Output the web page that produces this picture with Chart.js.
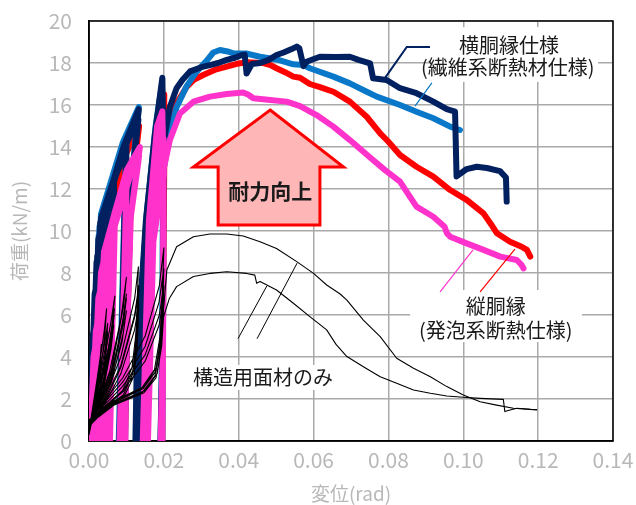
<!DOCTYPE html>
<html>
<head>
<meta charset="utf-8">
<script src="https://cdn.jsdelivr.net/npm/chart.js@4/dist/chart.umd.min.js"></script>
<style>
  body { margin: 0; background: #fff; }
</style>
</head>
<body>
<canvas id="hysChart" width="636" height="505"></canvas>
<script>

const xTicks = [0, 0.02, 0.04, 0.06, 0.08, 0.10, 0.12, 0.14];
const yTicks = [0, 2, 4, 6, 8, 10, 12, 14, 16, 18, 20];

// 横胴縁仕様 (dark)
const navyCycles = [
  [0.0000,-1],[0.0010,5.0],[0.0022,6.6],[0.0019,3.0],[0.0012,-1],
  [0.0001,-1],[0.0015,7.0],[0.0033,8.4],[0.0029,4.5],[0.0020,-1],
  [0.0002,-1],[0.0020,8.5],[0.0050,10.8],[0.0046,6.5],[0.0034,-1],
  [0.0003,-1],[0.0022,8.8],[0.0050,10.4],[0.0046,6.0],[0.0036,-1],
  [0.0003,-1],[0.0025,9.6],[0.0048,11.0],[0.0067,12.4],[0.0062,8.0],[0.0050,-1],
  [0.0004,-1],[0.0028,9.8],[0.0067,12.0],[0.0062,7.5],[0.0052,-1],
  [0.0004,-1],[0.0030,10.4],[0.0065,12.3],[0.0100,14.2],[0.0094,10.0],[0.0080,-1],
  [0.0006,-1],[0.0034,10.5],[0.0075,12.8],[0.0100,13.8],[0.0094,9.5],[0.0082,-1],
  [0.0005,-1],[0.0032,10.6],[0.0065,12.4],[0.0092,14.0],[0.0133,15.8],[0.0112,12.0],[0.0100,4.0],[0.0094,-1],
  [0.0008,-1],[0.0040,11.0],[0.0095,14.0],[0.0132,15.3],[0.0110,11.5],[0.0098,3.0],[0.0096,-1],
  [0.0123,-1],[0.0128,4.0],[0.0152,10.5],[0.0176,14.6],[0.0196,17.3],[0.0199,14.0],[0.0198,6.0],[0.0190,-1],
  [0.0127,-1],[0.0134,4.0],[0.0156,10.5],[0.0182,14.8],[0.0196,16.4],[0.0199,12.5],[0.0196,-1],
  [0.0130,-1],[0.0138,4.0],[0.0160,10.2],[0.0190,13.4]
];
const navyEnvelope = [
  [0.0200,14.3],[0.0216,15.9],[0.0234,16.8],[0.0250,17.2],[0.0270,17.6],[0.0300,17.8],[0.0323,17.9],
  [0.0345,18.0],[0.0368,18.15],[0.0390,18.25],[0.0408,18.38],[0.0416,18.4],[0.0421,17.5],[0.0435,17.95],
  [0.0457,18.0],[0.0480,18.15],[0.0501,18.38],[0.0520,18.5],[0.0540,18.65],[0.0555,18.78],[0.0562,18.7],
  [0.0573,17.85],[0.0581,18.06],[0.0617,18.3],[0.0660,18.28],[0.0697,18.3],[0.0720,18.15],[0.0751,17.98],
  [0.0759,17.27],[0.0795,17.19],[0.0831,16.8],[0.0875,16.56],[0.0920,16.16],[0.0956,15.8],[0.0978,15.68],
  [0.0982,12.6],[0.1009,12.95],[0.1036,13.06],[0.1063,13.0],[0.1098,12.85],[0.1114,12.55],[0.1116,11.4]
];

// 横胴縁仕様 (blue)
const blueCycles = [
  [0.0003,-1],[0.0026,9.8],[0.0050,11.2],[0.0067,12.5],[0.0062,8.0],[0.0050,-1],
  [0.0003,-1],[0.0028,10.2],[0.0065,12.5],[0.0100,14.3],[0.0093,10.0],[0.0078,-1],
  [0.0005,-1],[0.0032,10.8],[0.0090,14.2],[0.0133,15.9],[0.0111,12.0],[0.0098,3.0],[0.0094,-1],
  [0.0125,-1],[0.0130,4.0],[0.0154,10.8],[0.0178,15.0],[0.0195,17.0],[0.0198,13.0],[0.0195,4.0],[0.0190,-1],
  [0.0132,-1],[0.0140,4.0],[0.0163,10.5],[0.0198,12.8]
];
const blueEnvelope = [
  [0.0205,13.5],[0.0220,15.0],[0.0234,15.9],[0.0261,16.9],[0.0288,17.6],[0.0314,18.1],[0.0332,18.5],
  [0.0350,18.62],[0.0370,18.55],[0.0386,18.46],[0.0420,18.45],[0.0457,18.3],[0.0501,18.17],[0.0546,17.94],
  [0.0573,17.9],[0.0590,17.75],[0.0653,17.35],[0.0697,17.03],[0.0742,16.63],[0.0769,16.4],[0.0831,16.0],
  [0.0875,15.68],[0.0920,15.37],[0.0965,14.97],[0.0991,14.81]
];

// 縦胴縁 (red)
const redCycles = [
  [0.0000,-1],[0.0015,5.0],[0.0033,7.0],[0.0029,3.5],[0.0020,-1],
  [0.0002,-1],[0.0025,7.5],[0.0050,9.5],[0.0046,5.5],[0.0034,-1],
  [0.0003,-1],[0.0030,9.0],[0.0067,11.5],[0.0062,7.0],[0.0050,-1],
  [0.0004,-1],[0.0034,9.8],[0.0065,11.6],[0.0100,13.5],[0.0094,9.5],[0.0083,-1],
  [0.0006,-1],[0.0036,10.0],[0.0092,13.4],[0.0134,15.0],[0.0111,11.5],[0.0099,3.0],[0.0095,-1],
  [0.0128,-1],[0.0134,4.0],[0.0158,10.0],[0.0183,14.8],[0.0201,16.5],[0.0201,13.0],[0.0197,5.0],[0.0192,-1],
  [0.0140,-1],[0.0146,4.0],[0.0168,9.8],[0.0199,13.0]
];
const redEnvelope = [
  [0.0205,14.0],[0.0220,15.3],[0.0234,16.08],[0.0261,16.87],[0.0280,17.2],[0.0305,17.43],[0.0340,17.7],
  [0.0368,17.83],[0.0400,17.98],[0.0421,18.03],[0.0466,18.0],[0.0485,17.9],[0.0501,17.75],[0.0525,17.55],
  [0.0546,17.35],[0.0564,17.3],[0.0590,17.0],[0.0617,16.85],[0.0653,16.63],[0.0697,16.16],[0.0742,15.44],
  [0.0778,14.65],[0.0800,14.25],[0.0831,13.62],[0.0875,13.06],[0.0920,12.59],[0.0965,11.95],[0.1009,11.48],
  [0.1054,10.84],[0.1075,10.3],[0.1090,9.89],[0.1125,9.49],[0.1156,9.25],[0.1170,9.1],[0.1179,8.78]
];

// 縦胴縁 (magenta)
const magentaCycles = [
  [0.0002,-1],[0.0012,4.0],[0.0022,5.0],[0.0019,2.5],[0.0012,-1],
  [0.0003,-1],[0.0018,5.2],[0.0033,6.6],[0.0029,3.5],[0.0020,-1],
  [0.0004,-1],[0.0020,5.0],[0.0033,6.2],[0.0029,3.0],[0.0022,-1],
  [0.0005,-1],[0.0025,6.8],[0.0050,8.6],[0.0046,5.0],[0.0034,-1],
  [0.0007,-1],[0.0028,6.6],[0.0050,8.2],[0.0046,4.5],[0.0036,-1],
  [0.0008,-1],[0.0032,8.0],[0.0050,9.4],[0.0069,10.8],[0.0064,7.0],[0.0050,-1],
  [0.0010,-1],[0.0036,8.0],[0.0069,10.4],[0.0064,6.5],[0.0053,-1],
  [0.0012,-1],[0.0040,8.0],[0.0068,10.0],[0.0063,6.0],[0.0055,-1],
  [0.0012,-1],[0.0040,9.0],[0.0069,10.9],[0.0101,12.9],[0.0096,9.0],[0.0080,-1],
  [0.0015,-1],[0.0046,9.2],[0.0080,11.5],[0.0100,12.4],[0.0095,8.5],[0.0082,-1],
  [0.0018,-1],[0.0052,9.4],[0.0085,11.5],[0.0100,12.0],[0.0094,8.0],[0.0084,-1],
  [0.0018,-1],[0.0052,9.8],[0.0101,12.9],[0.0136,14.0],[0.0112,10.8],[0.0100,4.0],[0.0094,-1],
  [0.0022,-1],[0.0060,10.0],[0.0110,13.0],[0.0134,13.6],[0.0110,10.5],[0.0099,3.0],[0.0096,-1],
  [0.0026,-1],[0.0068,10.2],[0.0115,12.9],[0.0132,13.3],[0.0108,10.2],[0.0098,2.0],[0.0097,-1],
  [0.0142,-1],[0.0160,10.5],[0.0182,15.0],[0.0196,15.7],[0.0199,12.0],[0.0198,5.0],[0.0190,-1],
  [0.0147,-1],[0.0164,10.5],[0.0186,14.5],[0.0197,15.0],[0.0199,9.0],[0.0194,-1],
  [0.0152,-1],[0.0168,10.2],[0.0190,14.0],[0.0198,14.4],[0.0199,8.0],[0.0196,-1],
  [0.0156,-1],[0.0172,9.5],[0.0198,12.6]
];
const magentaEnvelope = [
  [0.0200,13.0],[0.0216,14.33],[0.0243,15.6],[0.0279,16.16],[0.0323,16.4],[0.0368,16.52],[0.0412,16.59],
  [0.0425,16.5],[0.0439,16.32],[0.0484,16.24],[0.0528,16.16],[0.0564,15.95],[0.0608,15.52],[0.0653,14.97],
  [0.0697,14.33],[0.0751,13.5],[0.0791,12.9],[0.0831,12.35],[0.0855,11.7],[0.0875,11.16],[0.0920,10.68],
  [0.0950,10.2],[0.0956,9.9],[0.0965,9.73],[0.1009,9.41],[0.1054,9.1],[0.1099,8.78],[0.1143,8.62],
  [0.1155,8.4],[0.1161,8.22]
];

// 構造用面材のみ (two specimens)
const plainACycles = [
  [0.0000,0.4],[0.0010,1.6],[0.0022,3.0],[0.0030,4.0],[0.0033,4.6],[0.0030,3.6],[0.0018,2.0],[0.0006,0.9],[0.0000,0.4],
  [0.0000,0.5],[0.0012,1.8],[0.0028,3.6],[0.0041,5.3],[0.0047,6.3],[0.0042,5.0],[0.0026,2.6],[0.0008,1.1],[0.0000,0.5],
  [0.0000,0.5],[0.0014,1.8],[0.0030,3.4],[0.0044,4.9],[0.0050,5.6],[0.0045,4.4],[0.0028,2.4],[0.0009,1.1],[0.0000,0.5],
  [0.0000,0.6],[0.0016,1.8],[0.0036,3.4],[0.0058,5.6],[0.0069,6.9],[0.0062,5.6],[0.0040,3.0],[0.0012,1.3],[0.0000,0.6],
  [0.0000,0.6],[0.0018,1.8],[0.0040,3.3],[0.0060,5.2],[0.0068,6.3],[0.0061,5.0],[0.0040,2.8],[0.0012,1.3],[0.0000,0.6],
  [0.0000,0.7],[0.0025,1.8],[0.0055,3.3],[0.0085,5.8],[0.0100,7.8],[0.0092,6.4],[0.0060,3.4],[0.0020,1.5],[0.0000,0.7],
  [0.0000,0.7],[0.0028,1.8],[0.0060,3.2],[0.0088,5.4],[0.0100,7.0],[0.0091,5.8],[0.0060,3.1],[0.0020,1.5],[0.0000,0.7],
  [0.0000,0.8],[0.0040,1.6],[0.0090,2.4],[0.0115,3.5],[0.0126,5.2],[0.0132,8.3],[0.0122,6.8],[0.0085,4.0],[0.0040,2.0],[0.0000,0.8],
  [0.0000,0.8],[0.0042,1.6],[0.0094,2.4],[0.0118,3.4],[0.0128,5.0],[0.0133,7.4],[0.0122,6.0],[0.0085,3.6],[0.0040,1.9],[0.0000,0.8],
  [0.0000,0.9],[0.0060,1.8],[0.0140,2.5],[0.0175,3.4],[0.0190,5.0],[0.0196,7.0],[0.0200,9.2],[0.0188,7.4],[0.0150,5.0],[0.0090,3.0],[0.0040,1.9],[0.0000,0.9],
  [0.0000,0.9],[0.0064,1.8],[0.0145,2.5],[0.0178,3.3],[0.0191,4.8],[0.0197,6.6],[0.0200,8.2],[0.0187,6.6],[0.0150,4.5],[0.0090,2.8],[0.0040,1.8],[0.0000,0.9],
  [0.0000,1.0],[0.0066,1.9],[0.0148,2.6],[0.0180,3.5],[0.0193,5.0],[0.0200,6.5]
];
const plainAEnvelope = [
  [0.0205,7.5],[0.0208,8.14],[0.0234,9.25],[0.0279,9.73],[0.0323,9.86],[0.0368,9.86],[0.0412,9.76],
  [0.0457,9.49],[0.0501,9.17],[0.0555,8.54],[0.0600,7.98],[0.0635,7.43],[0.0671,7.0],[0.0689,6.71],
  [0.0733,5.76],[0.0778,4.97],[0.0822,3.94],[0.0867,3.46],[0.0912,3.06],[0.0956,2.59],[0.1000,2.19],
  [0.1045,1.87],[0.1089,1.71],[0.1134,1.56],[0.1196,1.48]
];
const plainBCycles = [
  [0.0000,0.3],[0.0010,1.4],[0.0022,2.6],[0.0030,3.5],[0.0033,4.0],[0.0030,3.1],[0.0018,1.8],[0.0006,0.8],[0.0000,0.3],
  [0.0000,0.4],[0.0013,1.6],[0.0029,3.0],[0.0043,4.4],[0.0050,5.2],[0.0045,4.1],[0.0027,2.2],[0.0008,1.0],[0.0000,0.4],
  [0.0000,0.5],[0.0016,1.6],[0.0036,3.0],[0.0056,4.8],[0.0067,6.0],[0.0060,4.9],[0.0039,2.7],[0.0011,1.2],[0.0000,0.5],
  [0.0000,0.5],[0.0018,1.6],[0.0039,2.9],[0.0058,4.5],[0.0066,5.5],[0.0059,4.4],[0.0039,2.5],[0.0011,1.2],[0.0000,0.5],
  [0.0000,0.6],[0.0025,1.7],[0.0055,3.0],[0.0085,5.0],[0.0100,6.8],[0.0092,5.6],[0.0060,3.0],[0.0020,1.4],[0.0000,0.6],
  [0.0000,0.6],[0.0028,1.7],[0.0060,2.9],[0.0088,4.7],[0.0100,6.2],[0.0091,5.1],[0.0060,2.8],[0.0020,1.4],[0.0000,0.6],
  [0.0000,0.7],[0.0041,1.5],[0.0092,2.2],[0.0117,3.2],[0.0127,4.7],[0.0133,7.2],[0.0122,5.9],[0.0085,3.5],[0.0040,1.8],[0.0000,0.7],
  [0.0000,0.7],[0.0044,1.5],[0.0096,2.2],[0.0120,3.1],[0.0129,4.5],[0.0133,6.5],[0.0122,5.3],[0.0085,3.2],[0.0040,1.7],[0.0000,0.7],
  [0.0000,0.8],[0.0062,1.7],[0.0142,2.3],[0.0176,3.1],[0.0190,4.4],[0.0196,5.8],[0.0200,7.4],[0.0188,6.0],[0.0150,4.1],[0.0090,2.6],[0.0040,1.7],[0.0000,0.8],
  [0.0000,0.8],[0.0066,1.7],[0.0147,2.3],[0.0179,3.0],[0.0191,4.2],[0.0197,5.5],[0.0200,6.8],[0.0187,5.5],[0.0150,3.8],[0.0090,2.4],[0.0040,1.6],[0.0000,0.8],
  [0.0000,0.9],[0.0068,1.8],[0.0150,2.4],[0.0182,3.2],[0.0194,4.5],[0.0199,5.9]
];
const plainBEnvelope = [
  [0.0215,6.8],[0.0234,7.35],[0.0279,7.83],[0.0323,7.98],[0.0368,8.06],[0.0421,7.98],[0.0443,7.9],
  [0.0448,7.51],[0.0457,7.59],[0.0501,7.19],[0.0546,6.56],[0.0590,5.92],[0.0635,5.29],[0.0660,4.6],
  [0.0689,4.02],[0.0733,3.54],[0.0778,3.06],[0.0822,2.75],[0.0867,2.43],[0.0912,2.27],[0.0956,2.14],
  [0.1000,2.08],[0.1045,2.03],[0.1107,1.98],[0.1111,1.4],[0.1125,1.48],[0.1143,1.56],[0.1179,1.51],
  [0.1196,1.5]
];

const NAVY = '#002060';
const BLUE = '#0a78c8';
const RED = '#ff0000';
const MAGENTA = '#ff33cc';
const GRAY = '#b8b8b8';
const FONT = "'Noto Sans CJK JP', 'Noto Sans', sans-serif";

function toPoints(...parts) {
  return parts.flat().map(p => ({ x: p[0], y: p[1] }));
}

function curve(label, color, width, points) {
  return {
    label,
    data: points,
    showLine: true,
    borderColor: color,
    backgroundColor: color,
    borderWidth: width,
    pointRadius: 0,
    tension: 0,
    borderJoinStyle: 'round',
    borderCapStyle: 'round',
    clip: 0
  };
}

// text, boxes, arrow and leader lines drawn on top, placed in data units
const notes = {
  id: 'notes',
  beforeDatasetsDraw(chart) {
    const { ctx, chartArea: a } = chart;
    ctx.save();
    ctx.strokeStyle = '#000';
    ctx.lineWidth = 1.5;
    ctx.strokeRect(a.left, a.top, a.right - a.left, a.bottom - a.top);
    ctx.restore();
  },
  afterDatasetsDraw(chart) {
    const { ctx } = chart;
    const sx = chart.scales.x, sy = chart.scales.y;
    const X = v => sx.getPixelForValue(v);
    const Y = v => sy.getPixelForValue(v);

    function line(pts, color, w) {
      ctx.beginPath();
      pts.forEach((p, i) => i ? ctx.lineTo(X(p[0]), Y(p[1])) : ctx.moveTo(X(p[0]), Y(p[1])));
      ctx.strokeStyle = color;
      ctx.lineWidth = w;
      ctx.stroke();
    }
    function box(x0, y0, x1, y1) {
      ctx.fillStyle = '#fff';
      ctx.fillRect(X(x0), Y(y0), X(x1) - X(x0), Y(y1) - Y(y0));
    }
    function text(str, x, y, size, bold) {
      ctx.font = (bold ? 'bold ' : '') + size + 'px ' + FONT;
      ctx.fillStyle = '#1a1a1a';
      ctx.textAlign = 'center';
      ctx.textBaseline = 'middle';
      ctx.fillText(str, X(x), Y(y));
    }

    ctx.save();

    // arrow
    const arrow = [
      [0.0484,15.76],[0.0680,13.05],[0.0617,13.05],[0.0617,10.29],
      [0.0345,10.29],[0.0345,13.05],[0.0279,13.05]
    ];
    ctx.beginPath();
    arrow.forEach((p, i) => i ? ctx.lineTo(X(p[0]), Y(p[1])) : ctx.moveTo(X(p[0]), Y(p[1])));
    ctx.closePath();
    ctx.fillStyle = '#ffb6b6';
    ctx.fill();
    ctx.strokeStyle = RED;
    ctx.lineWidth = 3;
    ctx.lineJoin = 'miter';
    ctx.stroke();
    text('耐力向上', 0.0484, 11.9, 21, true);

    // label boxes
    box(0.0916, 19.71, 0.1360, 17.10);
    box(0.0858, 7.19, 0.1317, 4.71);
    box(0.0262, 3.62, 0.0671, 2.43);

    // leader lines
    line([[0.0911,18.76],[0.0849,18.76],[0.0791,17.29]], NAVY, 2);
    line([[0.0916,17.05],[0.0871,15.95]], BLUE, 1.2);
    line([[0.1026,9.10],[0.0938,7.10]], MAGENTA, 1.2);
    line([[0.1138,9.14],[0.1045,7.10]], RED, 1.2);
    line([[0.0398,4.87],[0.0475,7.38]], '#000', 1);
    line([[0.0449,4.87],[0.0556,8.47]], '#000', 1);

    text('横胴縁仕様', 0.1122, 18.86, 20);
    text('(繊維系断熱材仕様)', 0.1119, 17.81, 20);
    text('縦胴縁', 0.1087, 6.40, 20);
    text('(発泡系断熱仕様)', 0.1087, 5.29, 20);
    text('構造用面材のみ', 0.0465, 3.05, 20);

    ctx.restore();
  }
};

new Chart(document.getElementById('hysChart'), {
  type: 'scatter',
  data: {
    datasets: [
      curve('構造用面材のみ A', '#000', 1.1, toPoints(plainACycles, plainAEnvelope)),
      curve('構造用面材のみ B', '#000', 1.1, toPoints(plainBCycles, plainBEnvelope)),
      curve('縦胴縁 (発泡系断熱仕様) 2', MAGENTA, 6, toPoints(magentaCycles, magentaEnvelope)),
      curve('横胴縁仕様 1', NAVY, 6, toPoints(navyCycles, navyEnvelope)),
      curve('横胴縁仕様 2', BLUE, 6, toPoints(blueCycles, blueEnvelope)),
      curve('縦胴縁 (発泡系断熱仕様) 1', RED, 6, toPoints(redCycles, redEnvelope))
    ]
  },
  options: {
    responsive: false,
    animation: false,
    layout: { padding: { top: 21, right: 23, left: 0, bottom: 0 } },
    plugins: {
      legend: { display: false },
      tooltip: { enabled: false }
    },
    scales: {
      x: {
        type: 'linear',
        min: 0,
        max: 0.14,
        afterFit: s => { s.height = 64; s.paddingLeft = 0; s.paddingRight = 0; },
        afterBuildTicks: s => { s.ticks = xTicks.map(v => ({ value: v })); },
        ticks: {
          color: GRAY,
          font: { family: FONT, size: 21 },
          padding: 6,
          maxRotation: 0,
          callback: v => v.toFixed(2)
        },
        grid: { color: '#a9a9a9', lineWidth: 1.5, drawTicks: false },
        border: { display: true, color: '#000', width: 1.5 },
        title: {
          display: true,
          text: '変位(rad)',
          color: GRAY,
          font: { family: FONT, size: 19 },
          padding: { top: 0, bottom: 0 }
        }
      },
      y: {
        type: 'linear',
        min: 0,
        max: 20,
        afterFit: s => { s.width = 89; s.paddingTop = 0; s.paddingBottom = 0; },
        afterBuildTicks: s => { s.ticks = yTicks.map(v => ({ value: v })); },
        ticks: {
          color: GRAY,
          font: { family: FONT, size: 21 },
          padding: 17
        },
        grid: { color: '#a9a9a9', lineWidth: 1.5, drawTicks: false },
        border: { display: true, color: '#000', width: 1.5 },
        title: {
          display: true,
          text: '荷重(kN/m)',
          color: GRAY,
          font: { family: FONT, size: 19 },
          padding: { top: 8, bottom: 0 }
        }
      }
    }
  },
  plugins: [notes]
});
</script>
</body>
</html>
